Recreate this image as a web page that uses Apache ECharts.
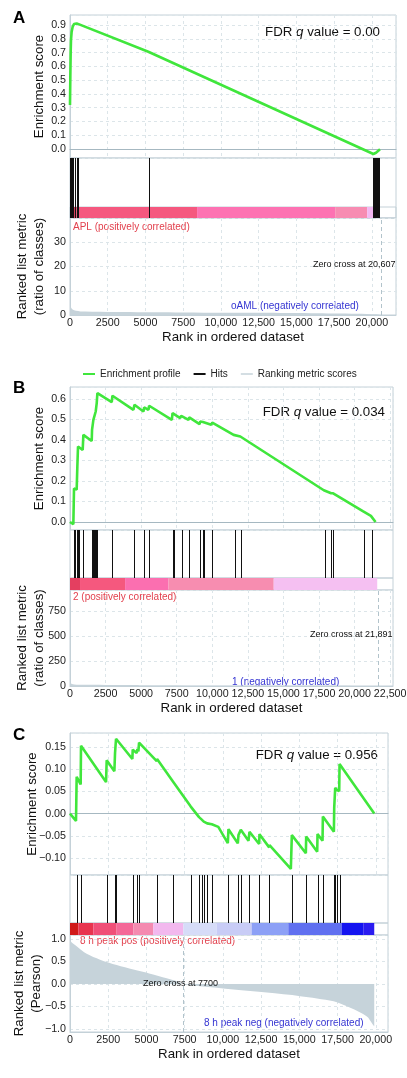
<!DOCTYPE html>
<html><head><meta charset="utf-8">
<script src="https://cdn.jsdelivr.net/npm/echarts@6/dist/echarts.min.js"></script>
<style>html,body{margin:0;padding:0;background:#fff}#c{width:407px;height:1078px}</style>
</head><body><div id="c"></div>
<script>
// ---------------- Panel A data ----------------
const aEsRank = [0,22,44,66,110,177,265,442,552,5190,5240,5250,20100,20275,20540];
const aEsVal  = [0.319,0.525,0.694,0.791,0.852,0.888,0.907,0.912,0.924,0.706,0.704,0.712,-0.036,-0.027,-0.002];
const aHits = [0,40,80,120,160,200,330,440,550,5250,20100,20140,20180,20220,20260,20300,20340,20380,20420,20460,20500];
const aBarStart = [0,450,8420,17570,19690,20090];
const aBarEnd   = [450,8420,17570,19690,20090,20540];
const aMetRank = [0,20,60,150,400,1000,3000,7000,12000,16000,19000,20300,20607];
const aMetVal  = [5.5,4.2,3.2,2.4,1.8,1.4,1.2,1.05,0.9,0.75,0.55,0.3,0];
const aZeroCross = 20607;
const aTexts = {fdr:'0.00', pos:'APL (positively correlated)', neg:'oAML (negatively correlated)', zc:'Zero cross at 20,607'};

// ---------------- Panel B data ----------------
const bEsRank = [0,235,282,469,516,563,892,939,1526,1549,1643,1760,1807,1878,1925,2934,2981,4459,4530,5163,5210,5515,5562,7158,7205,7745,7815,8332,8379,9106,9153,9341,9388,9928,9998,11500,11571,11970,12017,17837,17955,18354,18424,18495,20607,20654,21147,21194,21475];
const bEsVal  = [0,-0.011,0.163,0.158,0.270,0.368,0.351,0.425,0.395,0.449,0.498,0.490,0.539,0.580,0.629,0.585,0.616,0.547,0.572,0.539,0.559,0.547,0.567,0.498,0.531,0.507,0.518,0.498,0.510,0.477,0.490,0.488,0.495,0.474,0.485,0.425,0.433,0.417,0.425,0.155,0.160,0.140,0.143,0.140,0.052,0.055,0.030,0.032,0.000];
const bHits = [282,375,516,563,610,939,1549,1596,1643,1713,1784,1807,1878,1925,2981,4530,5210,5562,7205,7275,7862,8379,9153,9341,9388,9998,11571,12017,17955,18377,18495,20654,21194];
const bBarStart = [0,704,3872,6924,14317];
const bBarEnd   = [704,3872,6924,14317,21592];
const bMetRank = [0,30,100,300,1000,3000,4800,4850,10000,15000,20000,21650];
const bMetVal  = [60,35,22,16,13,11,10,4,2.5,1.5,0.8,0];
const bZeroCross = 21660;
const bTexts = {fdr:'0.034', pos:'2 (positively correlated)', neg:'1 (negatively correlated)', zc:'Zero cross at 21,891'};

// ---------------- Panel C data ----------------
const cEsRank = [0,393,436,698,720,2357,2400,2902,2946,2989,3011,4080,4102,4364,4408,4473,4517,5673,5695,6721,6742,7899,7920,8440,8466,8600,8619,8750,8772,8970,8990,9275,9295,9700,10322,10365,10976,11019,11128,11172,11674,11739,12372,12394,13027,13049,14445,14510,15427,15449,16169,16191,16518,16540,17260,17282,17325,17347,17456,17609,17631,19900];
const cEsVal  = [0,-0.0164,0.0828,0.0656,0.153,0.0709,0.120,0.0955,0.1365,0.135,0.1686,0.123,0.144,0.1365,0.1455,0.140,0.160,0.118,0.123,0.0731,0.0753,0.0157,0.019,-0.008,-0.005,-0.013,-0.010,-0.018,-0.015,-0.022,-0.018,-0.024,-0.021,-0.030,-0.0664,-0.0351,-0.0671,-0.0485,-0.0515,-0.0366,-0.0612,-0.041,-0.0686,-0.0463,-0.0761,-0.0709,-0.1246,-0.0485,-0.0895,-0.0515,-0.0858,-0.0463,-0.0612,-0.0067,-0.041,0.0134,0.0112,0.0582,0.053,0.0507,0.1119,0];
const cHits = [436,720,2400,2946,3011,4102,4408,4517,5695,6742,7920,8466,8619,8772,8990,9295,10365,11019,11172,11739,12394,13049,14510,14532,15449,16191,16540,17282,17347,17456,17631];
const cBarStart = [0,545,1526,3052,4142,5450,7412,9592,11880,14278,17766,19183];
const cBarEnd   = [545,1526,3052,4142,5450,7412,9592,11880,14278,17766,19183,19900];
const cMetRank = [0,100,436,1091,1964,3055,4146,5237,6328,7000,7380,8510,10690,12870,15060,17240,18330,19420,19750,19900];
const cMetVal  = [0.99,0.93,0.84,0.67,0.54,0.42,0.32,0.23,0.13,0.06,0,-0.05,-0.12,-0.19,-0.27,-0.385,-0.53,-0.72,-0.87,-0.94];
const cZeroCross = 7380;
const cTexts = {fdr:'0.956', pos:'8 h peak pos (positively correlated)', neg:'8 h peak neg (negatively correlated)', zc:'Zero cross at 7700'};

// ---------------- styles ----------------
const FONT = '"Liberation Sans", Arial, Helvetica, sans-serif';
const BORDER = '#c4d1d8';
const GRIDC = '#dce5e9';
const ZERO = '#a6b8c1';
const GREEN = '#40e63c';
const AREA = '#c6d3da';
const RED = '#e2404d';
const BLUE = '#3434d2';
const A_COLORS = ['#d8405c','#f5587f','#fd72b2','#f78cb2','#f2b8f2','#c8a8e8'];
const B_COLORS = ['#e43f60','#f5587e','#fb6fb0','#f78db0','#f5c0f2'];
const C_COLORS = ['#d01a1a','#e8344f','#f04f78','#f46898','#f48ab0','#f2b8ee','#d6dcf8','#c8ccf6','#8ca0f6','#6070f0','#1414f0','#2a1cf0'];

const LEFT = 70;
const minus = s => s.replace('-', '\u2212');
const panels = [
  {L:{esTop:15, esBot:158, hitBot:207, barBot:218, metBot:315, right:396, xMax:21600},
   es:[aEsRank,aEsVal], hits:aHits, bar:[aBarStart,aBarEnd], colors:A_COLORS, met:[aMetRank,aMetVal], zc:aZeroCross, t:aTexts,
   esY:{min:-0.065,max:0.973,split:10,fmt:v=>v.toFixed(1)}, metY:{min:0,max:40,interval:10,fmt:v=>String(v),showMin:true},
   through:true, esGap:24, metName:'Ranked list metric\n(ratio of classes)', metGap:22, letter:'A',
   pos:{fdrX:380,fdrY:32, posX:73,posY:227, negX:231,negY:306, zcX:313,zcY:265, letY:18}},
  {L:{esTop:387, esBot:530, hitBot:578, barBot:590, metBot:686, right:393, xMax:22700},
   es:[bEsRank,bEsVal], hits:bHits, bar:[bBarStart,bBarEnd], colors:B_COLORS, met:[bMetRank,bMetVal], zc:bZeroCross, t:bTexts,
   esY:{min:-0.039,max:0.6585,split:7,fmt:v=>v.toFixed(1)}, metY:{min:0,max:958,interval:250,fmt:v=>String(v),showMin:true},
   through:false, esGap:24, metName:'Ranked list metric\n(ratio of classes)', metGap:22, letter:'B',
   pos:{fdrX:385,fdrY:412, posX:73,posY:597, negX:232,negY:682, zcX:310,zcY:635, letY:388}},
  {L:{esTop:733, esBot:875, hitBot:923, barBot:935, metBot:1032, right:388, xMax:20800},
   es:[cEsRank,cEsVal], hits:cHits, bar:[cBarStart,cBarEnd], colors:C_COLORS, met:[cMetRank,cMetVal], zc:cZeroCross, t:cTexts,
   esY:{min:-0.1383,max:0.1815,split:6,fmt:v=>minus(v.toFixed(2))}, metY:{min:-1.067,max:1.089,split:4,fmt:v=>minus(v.toFixed(1)),showMin:false},
   through:false, esGap:31, metName:'Ranked list metric\n(Pearson)', metGap:25, letter:'C',
   pos:{fdrX:378,fdrY:755, posX:80,posY:941, negX:204,negY:1023, zcX:143,zcY:984, letY:735}}
];

const grids=[], xAxes=[], yAxes=[], series=[], graphics=[];
const xFmt = v => v >= 10000 ? v.toLocaleString('en-US') : String(v);
const dashed = {show:true, lineStyle:{color:GRIDC, type:[3,3], width:1}};
const lbl = {color:'#222', fontSize:10.7, fontFamily:FONT};

panels.forEach((p, i) => {
  const L = p.L, g = i*4, w = L.right - LEFT;
  const gb = {left:LEFT, width:w, show:true, borderColor:BORDER, borderWidth:1, containLabel:false, outerBoundsMode:'none'};
  grids.push(Object.assign({top:L.esTop, height:L.esBot-L.esTop}, gb));
  grids.push(Object.assign({top:L.esBot, height:(p.through?L.barBot:L.hitBot)-L.esBot}, gb));
  grids.push(Object.assign({top:L.hitBot, height:L.barBot-L.hitBot}, gb));
  grids.push(Object.assign({top:L.barBot, height:L.metBot-L.barBot}, gb));
  const xb = {type:'value', min:0, max:L.xMax, interval:2500};
  xAxes.push(Object.assign({gridIndex:g, axisLabel:{show:false}, axisTick:{show:false},
    axisLine:{show:true, onZero:true, lineStyle:{color:ZERO, width:1}}, splitLine:dashed}, xb));
  xAxes.push(Object.assign({gridIndex:g+1, show:false, splitLine:{show:false}}, xb));
  xAxes.push(Object.assign({gridIndex:g+2, show:false, splitLine:{show:false}}, xb));
  xAxes.push(Object.assign({gridIndex:g+3, axisTick:{show:false},
    axisLine:{show:true, onZero:false, lineStyle:{color:BORDER}}, splitLine:dashed,
    axisLabel:Object.assign({formatter:xFmt, showMaxLabel:false, margin:3}, lbl),
    name:'Rank in ordered dataset', nameLocation:'middle', nameGap:16, nameMoveOverlap:false,
    nameTextStyle:{fontSize:13.3, color:'#111', fontFamily:FONT}}, xb));
  yAxes.push({gridIndex:g, type:'value', min:p.esY.min, max:p.esY.max, splitNumber:p.esY.split,
    axisTick:{show:false}, axisLine:{show:true, lineStyle:{color:BORDER}}, splitLine:dashed,
    axisLabel:Object.assign({formatter:p.esY.fmt, showMinLabel:false, showMaxLabel:false, margin:4}, lbl),
    name:'Enrichment score', nameLocation:'middle', nameGap:p.esGap, nameRotate:90, nameMoveOverlap:false,
    nameTextStyle:{fontSize:13.3, color:'#111', fontFamily:FONT}});
  yAxes.push({gridIndex:g+1, type:'value', min:0, max:1, show:false, splitLine:{show:false}});
  yAxes.push({gridIndex:g+2, type:'value', min:0, max:1, show:false, splitLine:{show:false}});
  const my = {gridIndex:g+3, type:'value', min:p.metY.min, max:p.metY.max,
    axisTick:{show:false}, axisLine:{show:true, onZero:false, lineStyle:{color:BORDER}}, splitLine:dashed,
    axisLabel:Object.assign({formatter:p.metY.fmt, showMinLabel:p.metY.showMin, showMaxLabel:false, margin:4}, lbl),
    name:p.metName, nameLocation:'middle', nameGap:p.metGap, nameRotate:90, nameMoveOverlap:false,
    nameTextStyle:{fontSize:13.3, lineHeight:17, color:'#111', fontFamily:FONT, align:'center'}};
  if (p.metY.interval) my.interval = p.metY.interval; else my.splitNumber = p.metY.split;
  yAxes.push(my);

  // color bar
  series.push({type:'custom', xAxisIndex:g+2, yAxisIndex:g+2, z:2, silent:true,
    data:p.bar[0].map((s,k)=>[s, p.bar[1][k], k]),
    renderItem:(params, api) => {
      const a = api.coord([api.value(0), 0]), b = api.coord([api.value(1), 1]);
      return {type:'rect', shape:{x:a[0], y:b[1], width:b[0]-a[0], height:a[1]-b[1]},
        style:{fill:p.colors[api.value(2)]}};
    }});
  // hits
  series.push({type:'custom', name:'Hits', xAxisIndex:g+1, yAxisIndex:g+1, z:4, silent:true,
    itemStyle:{color:'#000'},
    data:p.hits.map(r=>[r]),
    renderItem:(params, api) => {
      const a = api.coord([api.value(0), 0]), b = api.coord([api.value(0), 1]);
      const x = Math.round(a[0]) + 0.5;
      return {type:'line', shape:{x1:x, y1:a[1], x2:x, y2:b[1]}, style:{stroke:'#111', lineWidth:1}};
    }});
  // enrichment profile
  series.push({type:'line', name:'Enrichment profile', xAxisIndex:g, yAxisIndex:g, z:5,
    data:p.es[0].map((r,k)=>[r, p.es[1][k]]), showSymbol:false, symbol:'none',
    lineStyle:{color:GREEN, width:2.6}, itemStyle:{color:GREEN}});
  // ranking metric
  series.push({type:'line', name:'Ranking metric scores', xAxisIndex:g+3, yAxisIndex:g+3, z:3,
    data:p.met[0].map((r,k)=>[r, p.met[1][k]]), showSymbol:false, symbol:'none', smooth:0.3,
    lineStyle:{width:0, color:AREA}, itemStyle:{color:AREA}, areaStyle:{color:AREA, opacity:1},
    markLine:{silent:true, symbol:['none','none'], label:{show:false},
      lineStyle:{type:[4,3], color:'#b2c3cb', width:1}, data:[{xAxis:p.zc}]}});

  const P = p.pos;
  graphics.push({type:'text', x:13, y:P.letY, style:{text:p.letter, font:'bold 17px ' + FONT, fill:'#000', verticalAlign:'middle'}});
  graphics.push({type:'text', x:P.fdrX, y:P.fdrY, style:{
    text:'{n|FDR }{q|q}{n| value = ' + p.t.fdr + '}', align:'right', verticalAlign:'middle',
    rich:{n:{fontSize:13.3, fontFamily:FONT, fill:'#111'}, q:{fontSize:13.3, fontFamily:FONT, fontStyle:'italic', fill:'#111'}}}});
  graphics.push({type:'text', x:P.posX, y:P.posY, style:{text:p.t.pos, fontSize:10, fontFamily:FONT, fill:RED, verticalAlign:'middle'}});
  graphics.push({type:'text', x:P.negX, y:P.negY, style:{text:p.t.neg, fontSize:10, fontFamily:FONT, fill:BLUE, verticalAlign:'middle'}});
  graphics.push({type:'text', x:P.zcX, y:P.zcY, z:10, style:{text:p.t.zc, fontSize:9, fontFamily:FONT, fill:'#111', verticalAlign:'middle'}});
});

const chart = echarts.init(document.getElementById('c'), null, {renderer:'canvas'});
chart.setOption({
  animation:false,
  backgroundColor:'#fff',
  grid:grids, xAxis:xAxes, yAxis:yAxes, series:series,
  legend:{top:364, left:78, itemWidth:12, itemHeight:2, itemGap:13, icon:'rect', selectedMode:false,
    textStyle:{fontSize:10, color:'#222', fontFamily:FONT},
    data:[{name:'Enrichment profile', itemStyle:{color:GREEN}}, {name:'Hits', itemStyle:{color:'#111'}},
          {name:'Ranking metric scores', itemStyle:{color:'#d4dee3'}}]},
  graphic:graphics
});
</script></body></html>
